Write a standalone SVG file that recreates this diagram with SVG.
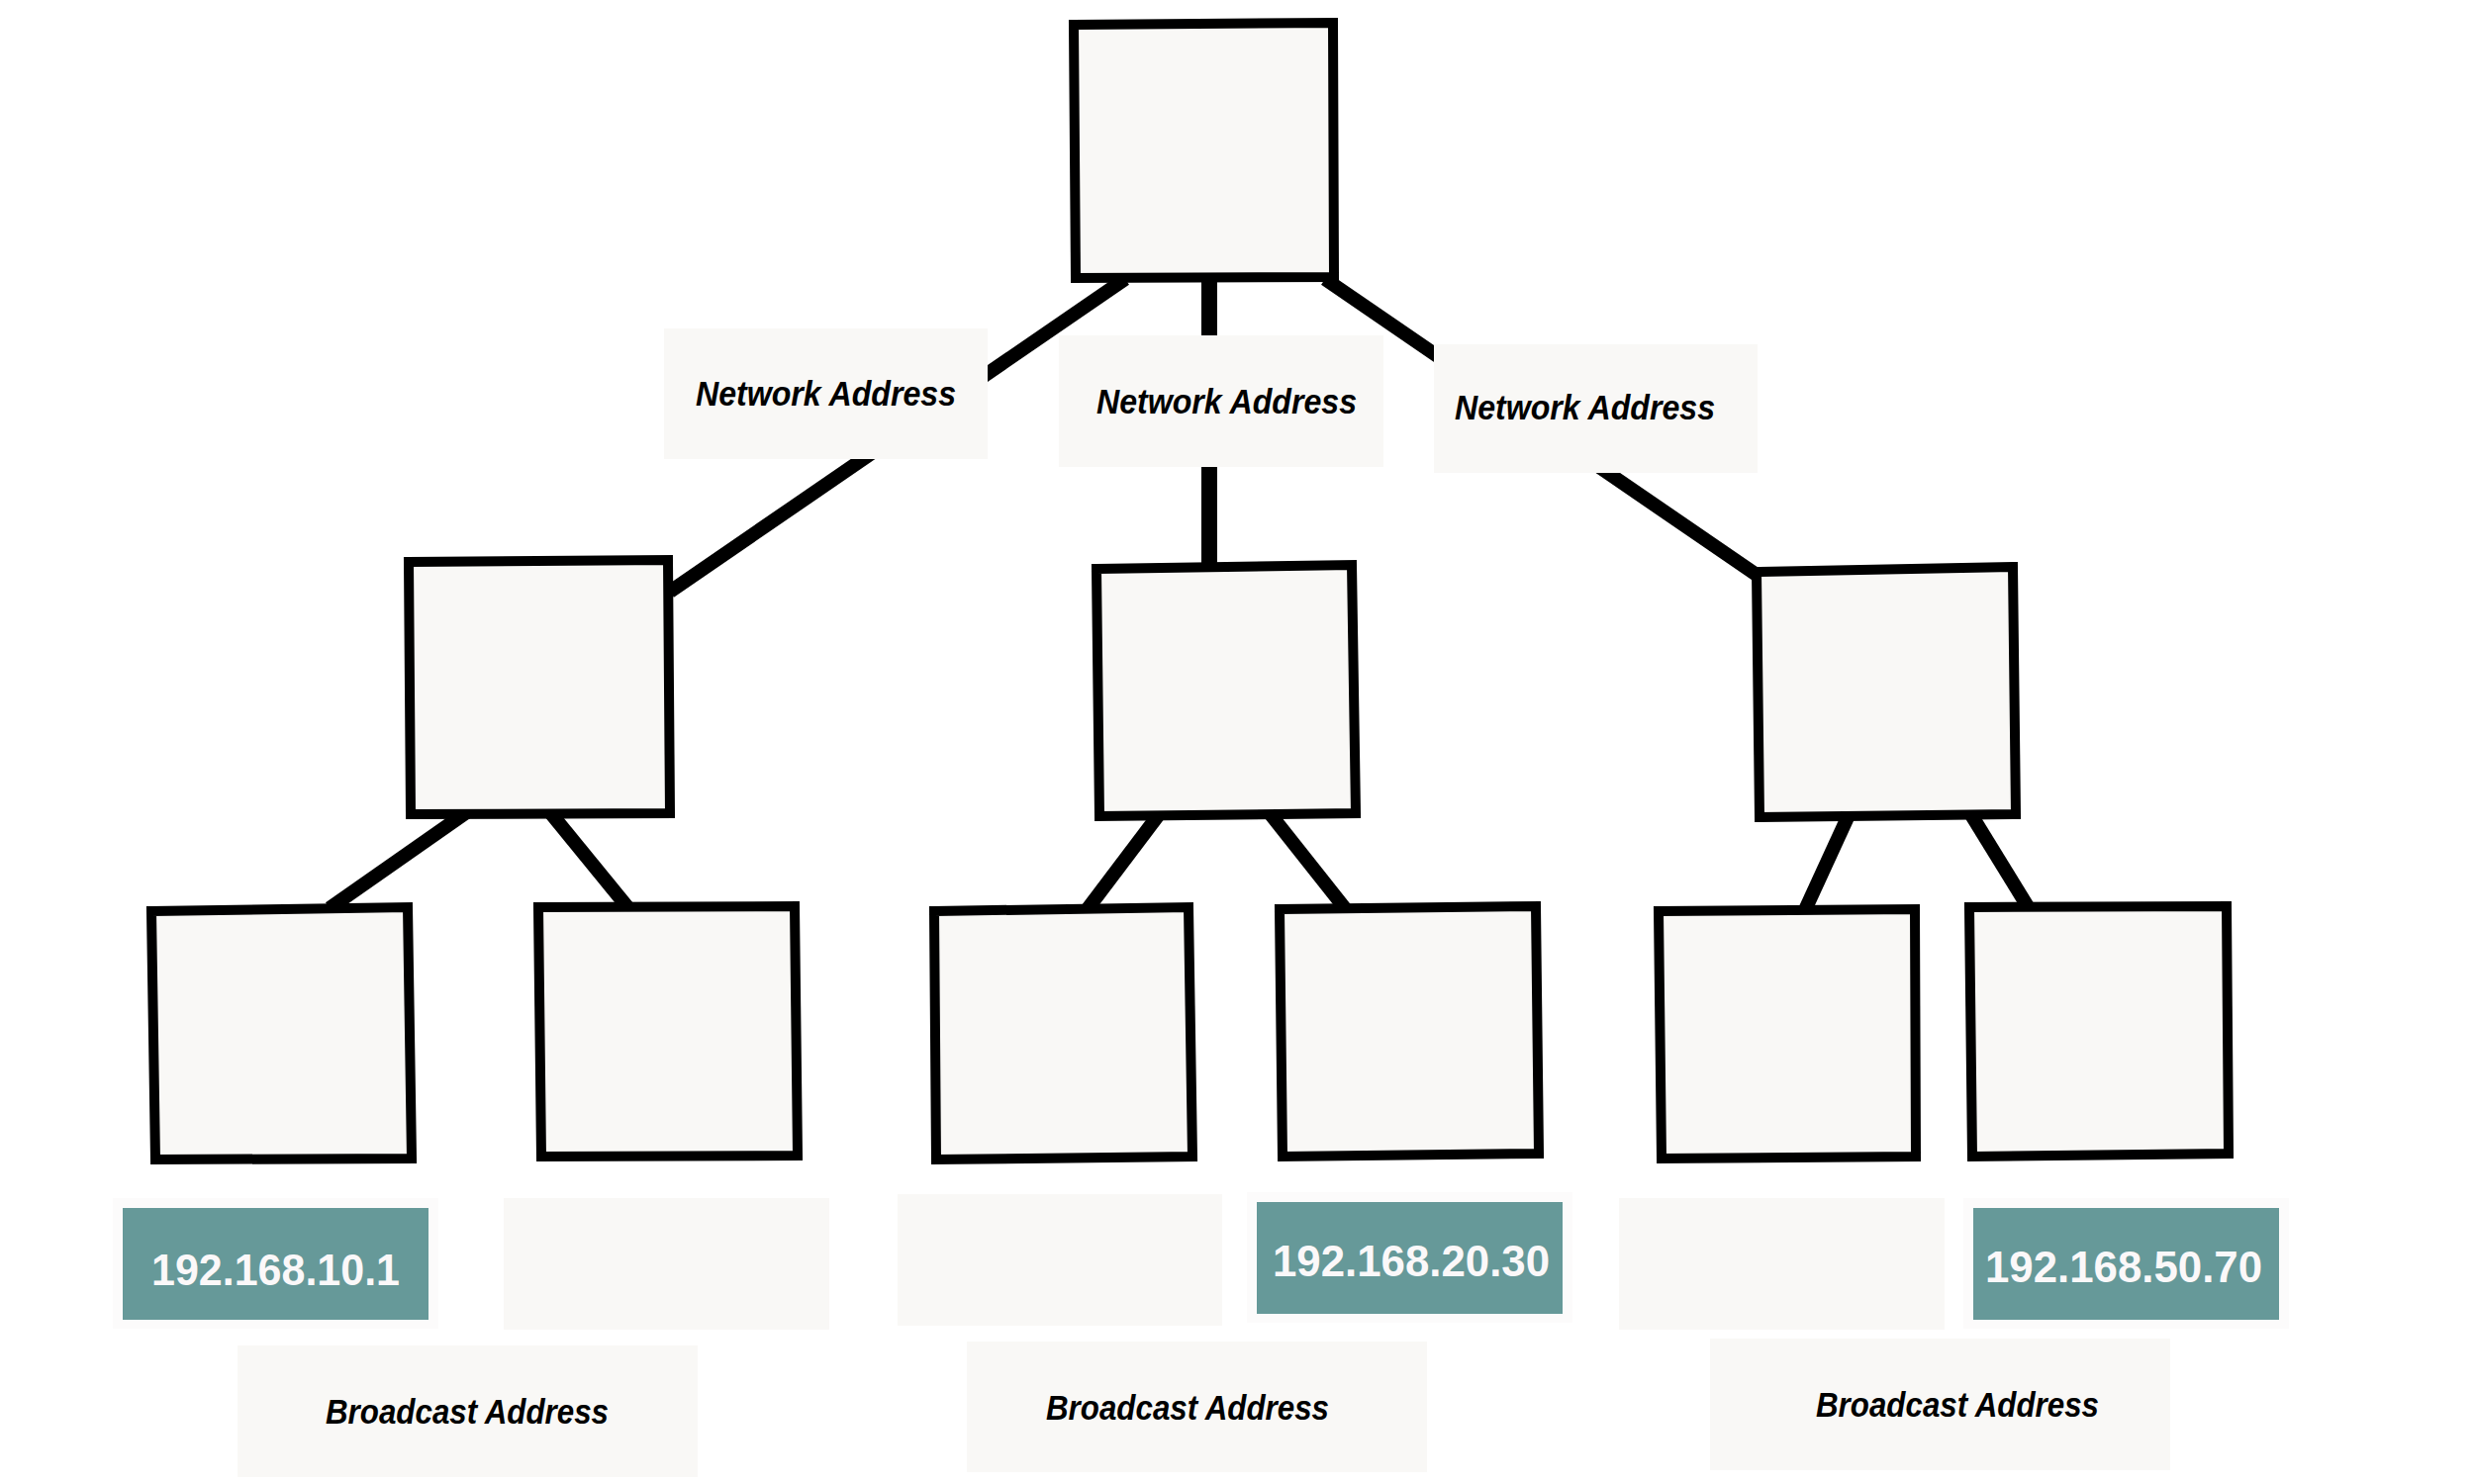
<svg xmlns="http://www.w3.org/2000/svg" width="2500" height="1500" viewBox="0 0 2500 1500">
<style>
.node{fill:#f9f8f6;stroke:#000;stroke-width:10;stroke-linejoin:miter}
.conn{stroke:#000;stroke-width:14;stroke-linecap:butt;fill:none}
.lbl{fill:#f9f8f6}
.halo{fill:#fcfbfb}
.teal{fill:#669999}
.t{font-family:"Liberation Sans",Arial,sans-serif;font-weight:bold;font-style:italic;font-size:35px;fill:#000}
.ip{font-family:"Liberation Sans",Arial,sans-serif;font-weight:bold;font-size:45px;fill:#fbf8f9}
</style>
<rect width="2500" height="1500" fill="#fff"/>
<g id="connectors">
<line class="conn" x1="1137" y1="282" x2="677" y2="598"/>
<line class="conn" x1="1222" y1="270" x2="1222" y2="580" style="stroke-width:16"/>
<line class="conn" x1="1339" y1="282" x2="1775" y2="581"/>
<line class="conn" x1="473" y1="820" x2="333" y2="918"/>
<line class="conn" x1="555" y1="820" x2="635" y2="918"/>
<line class="conn" x1="1172" y1="822" x2="1098" y2="920"/>
<line class="conn" x1="1283" y1="822" x2="1359" y2="918"/>
<line class="conn" x1="1868" y1="824" x2="1823" y2="922"/>
<line class="conn" x1="1991" y1="822" x2="2050" y2="918"/>
</g>
<g id="net-labels">
<g id="net1"><rect class="lbl" x="671" y="332" width="327" height="132"/><text class="t" x="703" y="410" textLength="263" lengthAdjust="spacingAndGlyphs">Network Address</text></g>
<g id="net2"><rect class="lbl" x="1070" y="339" width="328" height="133"/><text class="t" x="1108" y="418" textLength="263" lengthAdjust="spacingAndGlyphs">Network Address</text></g>
<g id="net3"><rect class="lbl" x="1449" y="348" width="327" height="130"/><text class="t" x="1470" y="424" textLength="263" lengthAdjust="spacingAndGlyphs">Network Address</text></g>
</g>
<g id="root"><polygon class="node" points="1085,25 1347,23 1348,280 1087,281"/></g>
<g id="mid1"><polygon class="node" points="413,568 675,566 677,822 415,823"/></g>
<g id="mid2"><polygon class="node" points="1108,575 1366,571 1370,822 1111,825"/></g>
<g id="mid3"><polygon class="node" points="1775,578 2034,573 2037,823 1778,826"/></g>
<g id="leaf1"><polygon class="node" points="153,921 412,917 416,1171 157,1172"/></g>
<g id="leaf2"><polygon class="node" points="544,917 803,916 806,1168 547,1169"/></g>
<g id="leaf3"><polygon class="node" points="944,921 1201,917 1205,1169 946,1172"/></g>
<g id="leaf4"><polygon class="node" points="1293,919 1552,916 1555,1166 1296,1169"/></g>
<g id="leaf5"><polygon class="node" points="1676,921 1935,919 1936,1169 1679,1171"/></g>
<g id="leaf6"><polygon class="node" points="1990,917 2250,916 2252,1166 1993,1169"/></g>
<g id="ip-labels">
<g id="ip1"><rect class="halo" x="114" y="1211" width="329" height="132"/><rect class="teal" x="124" y="1221" width="309" height="113"/><text class="ip" x="153" y="1299" textLength="251" lengthAdjust="spacingAndGlyphs">192.168.10.1</text></g>
<g id="empty2"><rect class="lbl" x="509" y="1211" width="329" height="133"/></g>
<g id="empty3"><rect class="lbl" x="907" y="1207" width="328" height="133"/></g>
<g id="ip2"><rect class="halo" x="1260" y="1205" width="329" height="132"/><rect class="teal" x="1270" y="1215" width="309" height="113"/><text class="ip" x="1286" y="1290" textLength="280" lengthAdjust="spacingAndGlyphs">192.168.20.30</text></g>
<g id="empty5"><rect class="lbl" x="1636" y="1211" width="329" height="133"/></g>
<g id="ip3"><rect class="halo" x="1984" y="1211" width="329" height="132"/><rect class="teal" x="1994" y="1221" width="309" height="113"/><text class="ip" x="2006" y="1296" textLength="280" lengthAdjust="spacingAndGlyphs">192.168.50.70</text></g>
</g>
<g id="bc-labels">
<g id="bc1"><rect class="lbl" x="240" y="1360" width="465" height="133"/><text class="t" x="329" y="1439" textLength="286" lengthAdjust="spacingAndGlyphs">Broadcast Address</text></g>
<g id="bc2"><rect class="lbl" x="977" y="1356" width="465" height="132"/><text class="t" x="1057" y="1435" textLength="286" lengthAdjust="spacingAndGlyphs">Broadcast Address</text></g>
<g id="bc3"><rect class="lbl" x="1728" y="1353" width="465" height="133"/><text class="t" x="1835" y="1432" textLength="286" lengthAdjust="spacingAndGlyphs">Broadcast Address</text></g>
</g>
</svg>
